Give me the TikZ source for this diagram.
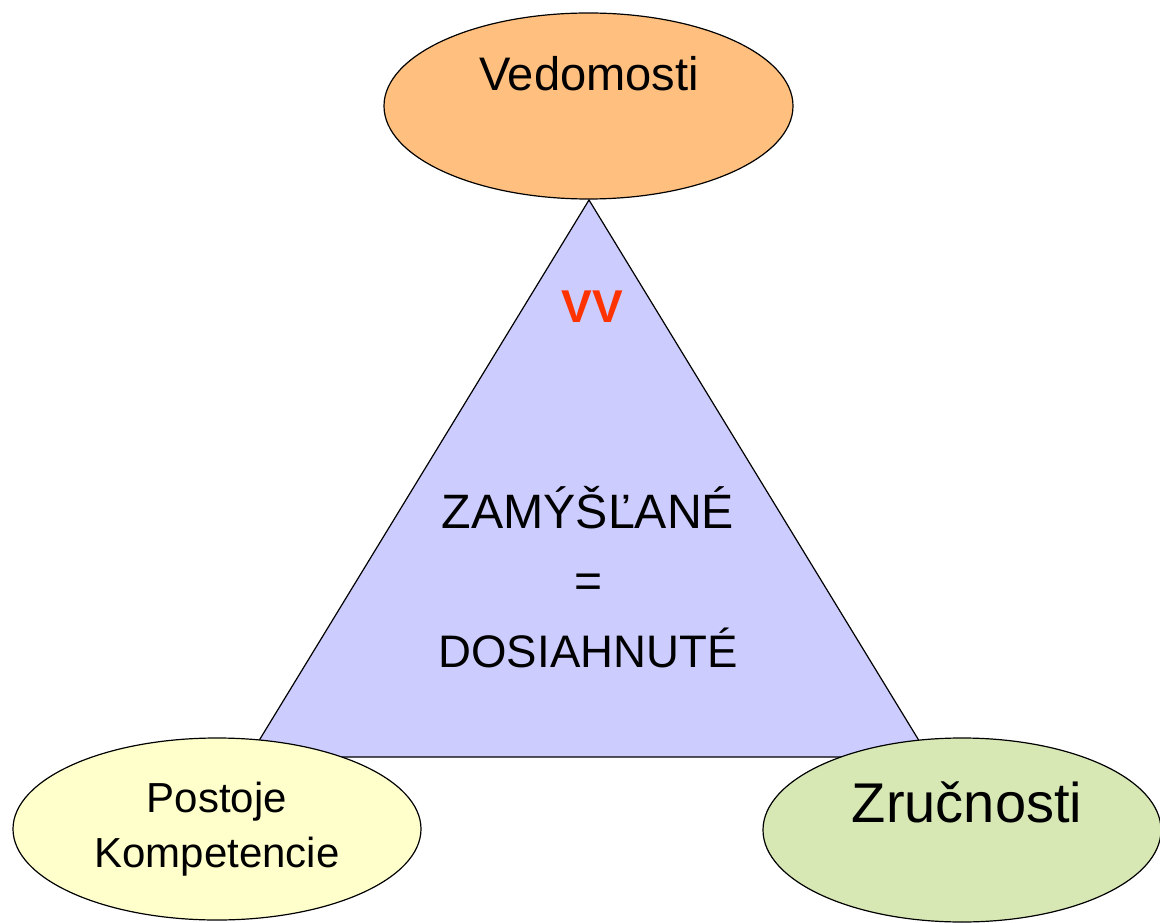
\documentclass[tikz,border=0pt]{standalone}
\usepackage{fontspec}
\setmainfont{Liberation Sans}
\usetikzlibrary{shapes.geometric}
\definecolor{orangefill}{HTML}{FFBF7F}
\definecolor{yellowfill}{HTML}{FFFFCC}
\definecolor{greenfill}{HTML}{D8E8B4}
\definecolor{trifill}{HTML}{CCCCFF}
\definecolor{vvred}{HTML}{FF3300}
\tikzset{
  blob/.style={draw=black, line width=0.9pt},
  lbl/.style={anchor=base, inner sep=0pt, text=black},
}
\begin{document}
\begin{tikzpicture}[x=0.75pt, y=-0.75pt]
\useasboundingbox (0,0) rectangle (1160,923);
% triangle
\coordinate (apex) at (589,200);
\coordinate (bl) at (249,757);
\coordinate (br) at (929,757);
\filldraw[fill=trifill, blob] (apex) -- (bl) -- (br) -- cycle;
% ellipses
\filldraw[fill=orangefill, blob] (588.5,106) ellipse [x radius=204.5, y radius=93];
\filldraw[fill=yellowfill, blob] (217,829) ellipse [x radius=204, y radius=91];
\filldraw[fill=greenfill, blob] (962,830) ellipse [x radius=199, y radius=92];
% texts
\node[lbl, font=\fontsize{35.3}{42}\selectfont] (ved) at (589,91) {Vedomosti};
\node[lbl, font=\fontsize{34.5}{41}\selectfont\bfseries, text=vvred] (vv) at (592,323) {VV};
\node[lbl, font=\fontsize{36.2}{43}\selectfont] (zam) at (588,528) {ZAMÝŠĽANÉ};
\node[lbl, font=\fontsize{36}{43}\selectfont] (eq) at (589,597) {=};
\node[lbl, font=\fontsize{34.2}{41}\selectfont] (dos) at (588,667) {DOSIAHNUTÉ};
\node[lbl, font=\fontsize{31.5}{38}\selectfont] (pos) at (217,812) {Postoje};
\node[lbl, font=\fontsize{31.5}{38}\selectfont] (kom) at (217,867) {Kompetencie};
\node[lbl, font=\fontsize{42}{50}\selectfont] (zru) at (967,822) {Zručnosti};
\end{tikzpicture}
\end{document}
